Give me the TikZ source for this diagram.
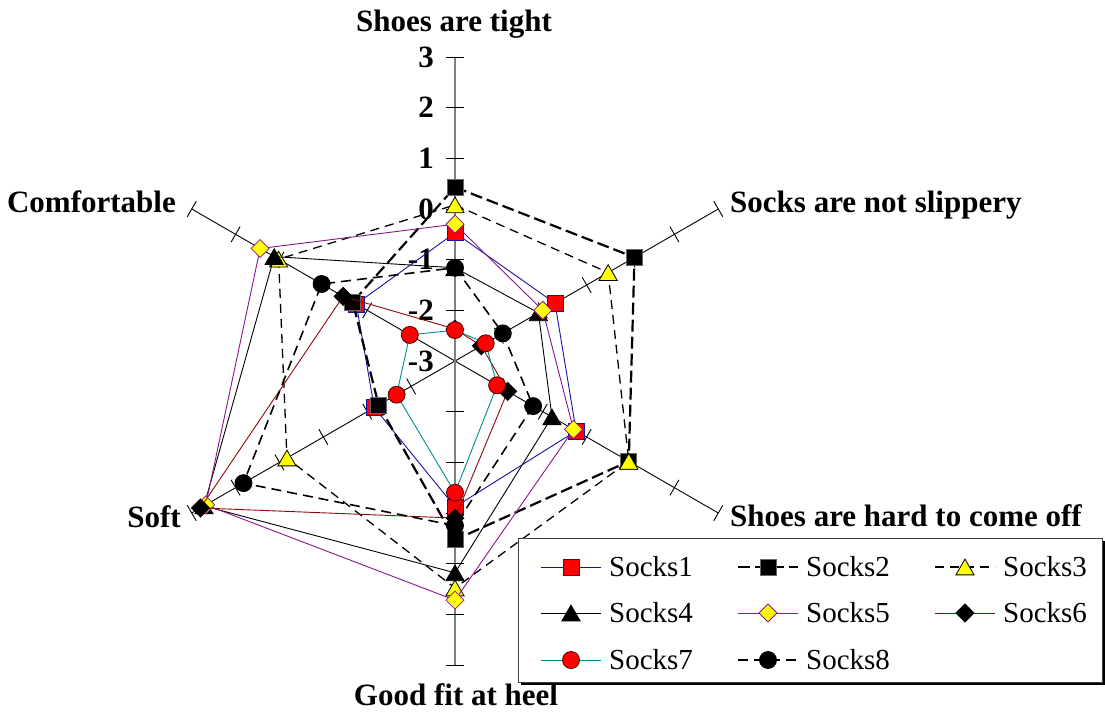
\documentclass[tikz,border=0pt]{standalone}
\usepackage{fontspec}
\setmainfont{Liberation Serif}
\usetikzlibrary{shapes.geometric,calc}
\definecolor{cnavy}{RGB}{20,20,160}
\definecolor{cpurple}{RGB}{140,20,140}
\definecolor{cdred}{RGB}{140,10,10}
\definecolor{cteal}{RGB}{0,140,140}
\definecolor{cyel}{RGB}{255,255,0}
\definecolor{cred}{RGB}{255,0,0}
\def\U{50.67}
\newcommand{\defseries}[7]{%
  \coordinate (#1-1) at (90:{(#2+3)*\U});
  \coordinate (#1-2) at (30:{(#3+3)*\U});
  \coordinate (#1-3) at (-30:{(#4+3)*\U});
  \coordinate (#1-4) at (-90:{(#5+3)*\U});
  \coordinate (#1-5) at (210:{(#6+3)*\U});
  \coordinate (#1-6) at (150:{(#7+3)*\U});
}
\begin{document}
\begin{tikzpicture}[x=1pt,y=1pt,
  lbl/.style={font=\bfseries\fontsize{31}{31}\selectfont, inner sep=0pt},
  leg/.style={font=\fontsize{29}{29}\selectfont, inner sep=0pt, anchor=west},
  diag/.style={line width=0.9pt, black},
  vaxis/.style={line width=1.6pt, black!50},
  tickmark/.style={line width=0.9pt, black},
  mk/.style={inner sep=0pt, outer sep=0pt, line width=0.8pt},
  msq/.style={mk, rectangle, minimum size=16pt},
  mtri/.style={mk, regular polygon, regular polygon sides=3, minimum size=21pt, yshift=-2.6pt},
  mdia/.style={mk, diamond, minimum width=18pt, minimum height=18pt},
  mcir/.style={mk, circle, minimum size=17pt},
  ser1/.style={line width=0.9pt, cnavy},
  ser2/.style={line width=2.2pt, black, dash pattern=on 12pt off 5pt},
  ser3/.style={line width=1.3pt, black, dash pattern=on 9pt off 6pt},
  ser4/.style={line width=0.9pt, black},
  ser5/.style={line width=0.9pt, cpurple},
  ser6/.style={line width=0.9pt, cdred},
  ser7/.style={line width=0.9pt, cteal},
  ser8/.style={line width=1.6pt, black, dash pattern=on 10pt off 6pt},
  mk1/.style={msq, fill=cred, draw=cnavy},
  mk2/.style={msq, fill=black, draw=black!60},
  mk3/.style={mtri, fill=cyel, draw=black},
  mk4/.style={mtri, fill=black, draw=black},
  mk5/.style={mdia, fill=cyel, draw=cpurple},
  mk6/.style={mdia, fill=black, draw=black},
  mk7/.style={mcir, fill=cred, draw=black!70!red},
  mk8/.style={mcir, fill=black, draw=black},
]
\useasboundingbox (0,0) rectangle (1105,713);
\coordinate (C) at (455,352);
\begin{scope}[shift={(C)}]
  % axes
  \coordinate (O) at (0,0);
  \coordinate (A1) at (90:{6*\U});
  \coordinate (A2) at (30:{6*\U});
  \coordinate (A3) at (-30:{6*\U});
  \coordinate (A4) at (-90:{6*\U});
  \coordinate (A5) at (210:{6*\U});
  \coordinate (A6) at (150:{6*\U});
  \draw[diag] (O) -- (A2);
  \draw[diag] (O) -- (A3);
  \draw[diag] (O) -- (A5);
  \draw[diag] (O) -- (A6);
  \draw[vaxis] (A4) -- (A1);
  \foreach \a in {90,30,-30,-90,210,150}{
    \foreach \k in {1,...,6}{
      \draw[tickmark] ($(\a:{\k*\U})+({\a+90}:9)$) -- ($(\a:{\k*\U})+({\a-90}:9)$);
    }
  }
  % value labels
  \foreach \v/\t in {6/3,5/2,4/1,3/0,2/-1,1/-2,0/-3}{
    \node[lbl, anchor=east] (val\v) at (-21,{\v*\U}) {\t};
  }
  % data
  \defseries{S1}{-0.47}{-0.72}{-0.24}{-0.12}{-1.16}{-0.75}
  \defseries{S2}{0.43}{1.09}{0.96}{0.53}{-1.26}{-0.67}
  \defseries{S3}{0.08}{0.49}{0.96}{1.48}{0.83}{1.02}
  \defseries{S4}{-1.16}{-1.10}{-0.79}{1.18}{2.72}{1.12}
  \defseries{S5}{-0.30}{-1.00}{-0.30}{1.72}{2.68}{1.44}
  \defseries{S6}{-2.37}{-2.40}{-1.80}{0.10}{2.80}{-0.45}
  \defseries{S7}{-2.39}{-2.30}{-2.04}{-0.40}{-1.67}{-1.97}
  \defseries{S8}{-1.16}{-1.91}{-1.22}{0.25}{1.82}{0.04}
  \foreach \s in {1,...,8}{
    \draw[ser\s] (S\s-1) -- (S\s-2) -- (S\s-3) -- (S\s-4) -- (S\s-5) -- (S\s-6) -- cycle;
    \foreach \i in {1,...,6}{
      \node[mk\s] (m\s-\i) at (S\s-\i) {};
    }
  }
\end{scope}
% axis titles
\node[lbl, anchor=base] (tTop) at (454,681) {Shoes are tight};
\node[lbl, anchor=base west] (tSlip) at (730,500) {Socks are not slippery};
\node[lbl, anchor=base west] (tOff) at (730,187) {Shoes are hard to come off};
\node[lbl, anchor=base] (tHeel) at (456,8) {Good fit at heel};
\node[lbl, anchor=base east] (tSoft) at (181,186) {Soft};
\node[lbl, anchor=base east] (tComf) at (176,500) {Comfortable};
% legend
\fill[black] (521,28) rectangle (1106,172);
\draw[fill=white, draw=black!75, line width=1pt] (518,31) rectangle (1102,175);
\foreach \r/\y in {1/146,2/100,3/53}{\coordinate (row\r) at (0,\y);}
\foreach \s/\col/\r in {1/1/1,2/2/1,3/3/1,4/1/2,5/2/2,6/3/2,7/1/3,8/2/3}{
  \pgfmathsetmacro{\xm}{571+(\col-1)*197}
  \coordinate (lm\s) at (\xm,0 |- row\r);
  \draw[ser\s] ($(lm\s)+(-30,0)$) -- ($(lm\s)+(30,0)$);
  \node[mk\s] (lk\s) at (lm\s) {};
  \node[leg] (lt\s) at ($(lm\s)+(38,0)$) {Socks\s};
}
\end{tikzpicture}
\end{document}
